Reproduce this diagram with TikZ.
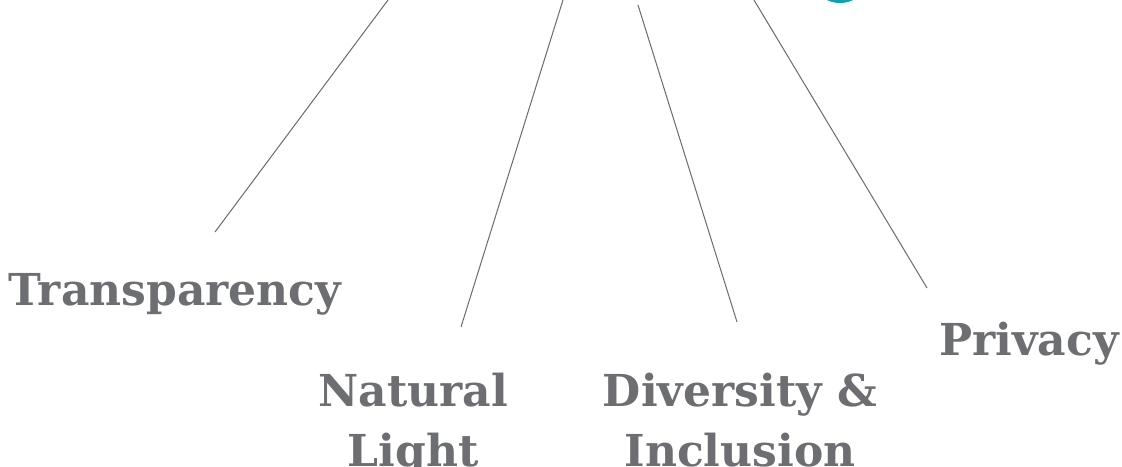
\documentclass[tikz,border=0pt]{standalone}
\usepackage{fontspec}
\setmainfont{DejaVu Serif}
\definecolor{labelgray}{HTML}{6D6E71}
\definecolor{linegray}{HTML}{6A6A6A}
\definecolor{hubteal}{HTML}{1A9BA8}
\begin{document}
\begin{tikzpicture}[x=0.75pt,y=-0.75pt,
  label/.style={inner sep=0pt,text=labelgray,font=\fontsize{33}{45}\selectfont\bfseries,align=center},
  spoke/.style={draw=linegray,line width=0.75pt}]
\useasboundingbox (0,0) rectangle (1122,467);
\fill[hubteal] (840,-27) circle[radius=30];
\coordinate (t1) at (388,0);   \coordinate (b1) at (215,232);
\coordinate (t2) at (563,0);   \coordinate (b2) at (461,327);
\coordinate (t3) at (638,5);   \coordinate (b3) at (737,322);
\coordinate (t4) at (754,0);   \coordinate (b4) at (927,288);
\draw[spoke] (t1) -- (b1);
\draw[spoke] (t2) -- (b2);
\draw[spoke] (t3) -- (b3);
\draw[spoke] (t4) -- (b4);
\node[label,anchor=base west] (transp) at (8,305) {Transparency};
\node[label,anchor=base west] (priv) at (939,355) {Privacy};
\node[label,anchor=base] (nat) at (413,466) {Natural\\Light};
\node[label,anchor=base] (div) at (740,466) {Diversity \&\\Inclusion};
\end{tikzpicture}
\end{document}
